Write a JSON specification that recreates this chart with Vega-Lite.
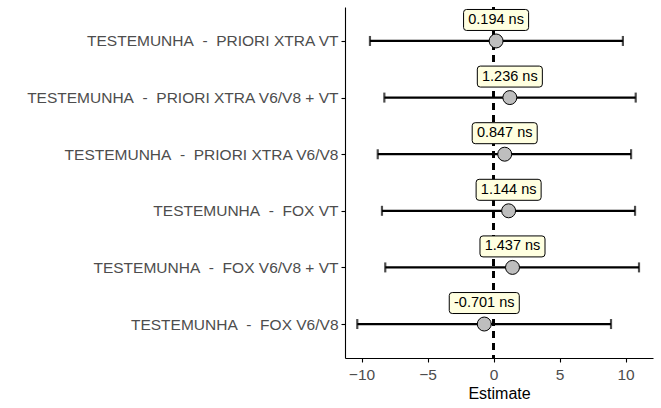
{
  "$schema": "https://vega.github.io/schema/vega-lite/v6.json",
  "width": 308,
  "height": 351,
  "autosize": {"type": "none"},
  "padding": {"left": 345, "top": 7, "right": 8, "bottom": 50},
  "background": "white",
  "config": {
    "font": "Liberation Sans",
    "view": {"stroke": null},
    "axis": {"grid": false, "domainColor": "black", "domainWidth": 1.1, "tickColor": "black", "tickWidth": 1.1, "tickSize": 4, "labelColor": "#4D4D4D", "labelFontSize": 15.5, "labelFont": "Liberation Sans", "titleFont": "Liberation Sans", "titleColor": "black", "titleFontWeight": "normal", "titleFontSize": 16}
  },
  "data": {
    "values": [
      {"comparison": "TESTEMUNHA\u00a0\u00a0-\u00a0\u00a0PRIORI XTRA VT", "estimate": 0.194, "lower": -9.36, "upper": 9.8, "label": "0.194 ns"},
      {"comparison": "TESTEMUNHA\u00a0\u00a0-\u00a0\u00a0PRIORI XTRA V6/V8 + VT", "estimate": 1.236, "lower": -8.27, "upper": 10.77, "label": "1.236 ns"},
      {"comparison": "TESTEMUNHA\u00a0\u00a0-\u00a0\u00a0PRIORI XTRA V6/V8", "estimate": 0.847, "lower": -8.77, "upper": 10.42, "label": "0.847 ns"},
      {"comparison": "TESTEMUNHA\u00a0\u00a0-\u00a0\u00a0FOX VT", "estimate": 1.144, "lower": -8.45, "upper": 10.72, "label": "1.144 ns"},
      {"comparison": "TESTEMUNHA\u00a0\u00a0-\u00a0\u00a0FOX V6/V8 + VT", "estimate": 1.437, "lower": -8.2, "upper": 11.02, "label": "1.437 ns"},
      {"comparison": "TESTEMUNHA\u00a0\u00a0-\u00a0\u00a0FOX V6/V8", "estimate": -0.701, "lower": -10.32, "upper": 8.9, "label": "-0.701 ns"}
    ]
  },
  "encoding": {
    "y": {
      "field": "comparison",
      "type": "nominal",
      "sort": null,
      "scale": {"type": "point", "padding": 0.6},
      "axis": {"title": null, "labelPadding": 3, "labelLimit": 400}
    }
  },
  "layer": [
    {
      "mark": {"type": "rule", "color": "black", "strokeWidth": 2, "strokeDash": [7, 5]},
      "encoding": {
        "x": {"datum": 0, "type": "quantitative", "scale": {"domain": [-11.25, 12.08], "nice": false, "zero": false},
          "axis": {"title": "Estimate", "values": [-10, -5, 0, 5, 10], "labelPadding": 5, "titlePadding": 3}},
        "y": null
      }
    },
    {
      "mark": {"type": "rule", "color": "black", "strokeWidth": 2.2},
      "encoding": {
        "x": {"field": "lower", "type": "quantitative"},
        "x2": {"field": "upper"}
      }
    },
    {
      "mark": {"type": "tick", "color": "black", "thickness": 2.2, "size": 10, "orient": "vertical"},
      "encoding": {"x": {"field": "lower", "type": "quantitative"}}
    },
    {
      "mark": {"type": "tick", "color": "black", "thickness": 2.2, "size": 10, "orient": "vertical"},
      "encoding": {"x": {"field": "upper", "type": "quantitative"}}
    },
    {
      "mark": {"type": "point", "shape": "circle", "filled": true, "fill": "#BEBEBE", "stroke": "black", "strokeWidth": 1, "size": 195, "opacity": 1},
      "encoding": {"x": {"field": "estimate", "type": "quantitative"}}
    },
    {
      "mark": {"type": "point", "filled": true, "fill": "#FFFFE0", "stroke": "black", "strokeWidth": 1, "size": 4096, "opacity": 1, "yOffset": -21},
      "encoding": {
        "x": {"field": "estimate", "type": "quantitative"},
        "shape": {
          "condition": {"test": "datum.estimate < 0", "value": "M-1.0,-0.328 H1.0 Q1.094,-0.328 1.094,-0.234 V0.234 Q1.094,0.328 1.0,0.328 H-1.0 Q-1.094,0.328 -1.094,0.234 V-0.234 Q-1.094,-0.328 -1.0,-0.328 Z"},
          "value": "M-0.922,-0.328 H0.922 Q1.016,-0.328 1.016,-0.234 V0.234 Q1.016,0.328 0.922,0.328 H-0.922 Q-1.016,0.328 -1.016,0.234 V-0.234 Q-1.016,-0.328 -0.922,-0.328 Z"
        }
      }
    },
    {
      "mark": {"type": "text", "fontSize": 14.5, "color": "black", "baseline": "middle", "align": "center", "yOffset": -21},
      "encoding": {
        "x": {"field": "estimate", "type": "quantitative"},
        "text": {"field": "label"}
      }
    }
  ]
}
